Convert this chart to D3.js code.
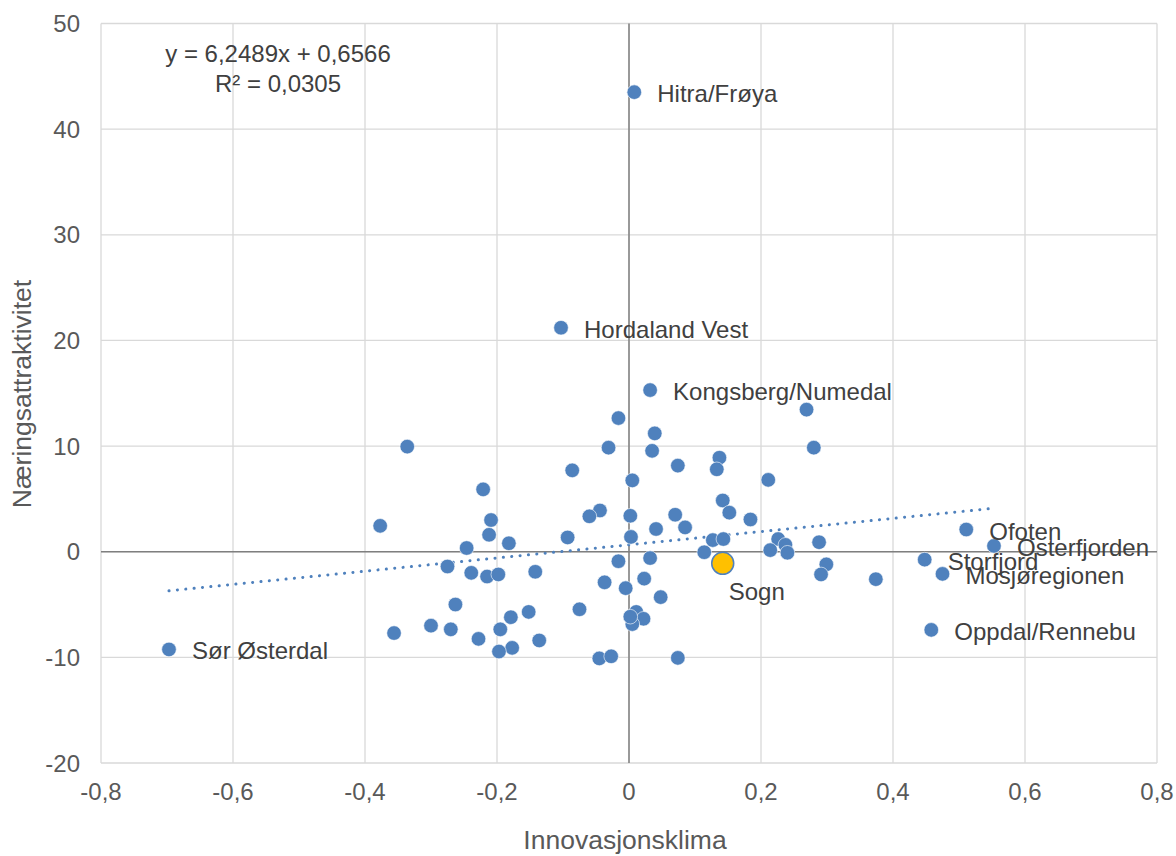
<!DOCTYPE html>
<html>
<head>
<meta charset="utf-8">
<script src="https://cdn.jsdelivr.net/npm/d3@7"></script>
<style>
  body { margin: 0; background: #fff; }
  text { font-family: "Liberation Sans", Arial, sans-serif; }
</style>
</head>
<body>
<svg id="chart"></svg>
<script>
// data
const innovasjon = [0.008, -0.103, 0.032, -0.697, 0.511, 0.553, 0.448, 0.475, 0.458,
  -0.336, -0.221, -0.209, -0.212, -0.377, -0.246, -0.182, -0.275, -0.239, -0.215, -0.198, -0.142,
  -0.263, -0.152, -0.179, -0.300, -0.270, -0.356, -0.195, -0.228, -0.136, -0.177, -0.197,
  -0.016, 0.039, -0.031, 0.035, -0.086, 0.074, 0.137, 0.133, 0.005, 0.142, 0.152, 0.184,
  -0.044, -0.060, 0.002, 0.070, 0.041, 0.085, -0.093, 0.003, 0.127, 0.143, 0.114,
  -0.016, 0.032, -0.037, -0.005, 0.023, 0.048, -0.075, 0.011, 0.022, 0.005, 0.002,
  -0.045, -0.027, 0.074, 0.269, 0.280, 0.211, 0.288, 0.226, 0.237, 0.214, 0.240,
  0.299, 0.291, 0.374];
const naering = [43.5, 21.2, 15.3, -9.25, 2.1, 0.55, -0.75, -2.1, -7.4,
  9.95, 5.9, 3.0, 1.6, 2.45, 0.35, 0.8, -1.4, -2.0, -2.35, -2.15, -1.9,
  -5.0, -5.7, -6.2, -7.0, -7.35, -7.7, -7.35, -8.25, -8.4, -9.1, -9.45,
  12.65, 11.2, 9.85, 9.55, 7.7, 8.15, 8.9, 7.8, 6.75, 4.85, 3.7, 3.05,
  3.9, 3.35, 3.4, 3.5, 2.15, 2.3, 1.35, 1.4, 1.1, 1.2, -0.05,
  -0.9, -0.6, -2.9, -3.45, -2.55, -4.3, -5.45, -5.7, -6.35, -6.85, -6.15,
  -10.1, -9.9, -10.05, 13.45, 9.85, 6.8, 0.9, 1.2, 0.65, 0.15, -0.1,
  -1.2, -2.15, -2.6];
const navn = ['Hitra/Frøya', 'Hordaland Vest', 'Kongsberg/Numedal', 'Sør Østerdal', 'Ofoten',
  'Osterfjorden', 'Storfjord', 'Mosjøregionen', 'Oppdal/Rennebu'];
const sogn = { navn: 'Sogn', x: 0.142, y: -1.1 };
const xTicks = [-0.8, -0.6, -0.4, -0.2, 0, 0.2, 0.4, 0.6, 0.8];
const yTicks = [-20, -10, 0, 10, 20, 30, 40, 50];
const slope = 6.2489, intercept = 0.6566;

const w = 1176, h = 856;
const plotLeft = 101, plotRight = 1157, plotTop = 23.5, plotBottom = 763;
const blue = '#4F81BD';

const svg = d3.select('#chart').attr('width', w).attr('height', h);

const x = d3.scaleLinear().domain([-0.8, 0.8]).range([plotLeft, plotRight]);
const y = d3.scaleLinear().domain([-20, 50]).range([plotBottom, plotTop]);
const fmt = d => d === 0 ? '0' : d3.format('.1f')(d).replace('.', ',').replace('−', '-');

// gridlines
svg.append('g').selectAll('line').data(xTicks).join('line')
  .attr('x1', d => x(d)).attr('x2', d => x(d)).attr('y1', plotTop).attr('y2', plotBottom)
  .attr('stroke', '#d9d9d9').attr('stroke-width', 1.3);
svg.append('g').selectAll('line').data(yTicks).join('line')
  .attr('x1', plotLeft).attr('x2', plotRight).attr('y1', d => y(d)).attr('y2', d => y(d))
  .attr('stroke', '#d9d9d9').attr('stroke-width', 1.3);

// zero axes
svg.append('line').attr('x1', x(0)).attr('x2', x(0)).attr('y1', plotTop).attr('y2', plotBottom)
  .attr('stroke', '#7f7f7f').attr('stroke-width', 1.5);
svg.append('line').attr('x1', plotLeft).attr('x2', plotRight).attr('y1', y(0)).attr('y2', y(0))
  .attr('stroke', '#7f7f7f').attr('stroke-width', 1.5);

// tick labels
svg.append('g').selectAll('text').data(xTicks).join('text')
  .attr('x', d => x(d)).attr('y', 800).attr('text-anchor', 'middle')
  .attr('font-size', 24).attr('fill', '#595959')
  .text(fmt);
svg.append('g').selectAll('text').data(yTicks).join('text')
  .attr('x', 80).attr('y', d => y(d) + 8.5).attr('text-anchor', 'end')
  .attr('font-size', 24).attr('fill', '#595959')
  .text(d => d);

// axis titles
svg.append('text').attr('x', 625).attr('y', 849).attr('text-anchor', 'middle')
  .attr('font-size', 26.5).attr('fill', '#595959').text('Innovasjonsklima');
svg.append('text').attr('transform', 'translate(31,394) rotate(-90)').attr('text-anchor', 'middle')
  .attr('font-size', 26.5).attr('fill', '#595959').text('Næringsattraktivitet');

// trendline
const xs = innovasjon.concat([sogn.x]);
const x0 = d3.min(xs), x1 = d3.max(xs);
svg.append('line')
  .attr('x1', x(x0)).attr('y1', y(slope * x0 + intercept))
  .attr('x2', x(x1)).attr('y2', y(slope * x1 + intercept))
  .attr('stroke', blue).attr('stroke-width', 3)
  .attr('stroke-linecap', 'round').attr('stroke-dasharray', '0.1,8.3');

// equation
svg.append('text').attr('x', 278).attr('y', 62).attr('text-anchor', 'middle')
  .attr('font-size', 24).attr('fill', '#404040').text('y = 6,2489x + 0,6566');
svg.append('text').attr('x', 278).attr('y', 92).attr('text-anchor', 'middle')
  .attr('font-size', 24).attr('fill', '#404040').text('R² = 0,0305');

// points
const pts = innovasjon.map((d, i) => ({ x: d, y: naering[i], navn: navn[i] }));
svg.append('g').selectAll('circle').data(pts).join('circle')
  .attr('cx', d => x(d.x)).attr('cy', d => y(d.y)).attr('r', 7.3)
  .attr('fill', blue).attr('stroke', '#fff').attr('stroke-width', 0.6);

svg.append('circle').attr('cx', x(sogn.x)).attr('cy', y(sogn.y)).attr('r', 11)
  .attr('fill', '#FFC000').attr('stroke', blue).attr('stroke-width', 1.5);

// labels
svg.append('g').selectAll('text').data(pts.filter(d => d.navn)).join('text')
  .attr('x', d => x(d.x) + 23).attr('y', d => y(d.y) + 10)
  .attr('font-size', 24).attr('fill', '#404040')
  .text(d => d.navn);
svg.append('text').attr('x', x(sogn.x) + 6).attr('y', y(sogn.y) + 37)
  .attr('font-size', 24).attr('fill', '#404040').text(sogn.navn);
</script>
</body>
</html>
